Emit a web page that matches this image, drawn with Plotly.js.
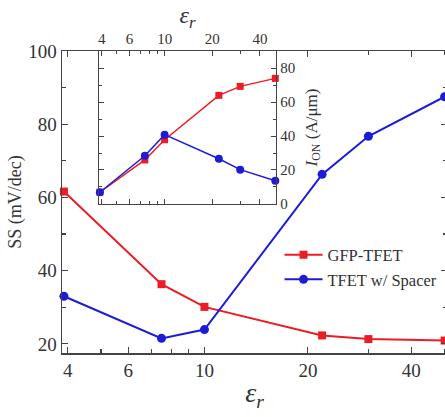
<!DOCTYPE html>
<html>
<head>
<meta charset="utf-8">
<script src="https://cdn.plot.ly/plotly-3.0.1.min.js"></script>
<style>
html,body{margin:0;padding:0;overflow:hidden;background:#fff;}
#chart{width:450px;height:417px;}
</style>
</head>
<body>
<div id="chart"></div>
<script>
// Dielectric constants (x)
const epsR = [3.9, 7.5, 10, 22, 30, 50];
// Main plot: subthreshold swing SS (mV/dec)
const ssGFP = [61.6, 36.3, 30.1, 22.3, 21.3, 20.9];
const ssSpacer = [33.0, 21.5, 23.9, 66.3, 76.7, 87.5];
// Inset: ON current I_ON (A/um)
const ionGFP = [6.9, 25.9, 37.8, 63.9, 69.2, 73.9];
const ionSpacer = [6.9, 28.4, 40.8, 26.6, 20.2, 13.7];
// Tick labels
const xTickVals = [4, 6, 10, 20, 40];
const xTickText = ['4', '6', '10', '20', '40'];
const xMinorVals = [5, 7, 8, 9, 30, 50];

const RED = '#ec1c24';
const BLUE = '#1c1cd8';
const FONT = '"Liberation Serif", "Times New Roman", serif';
const AX = '#444';

const traces = [
  {x: epsR, y: ssGFP, name: 'GFP-TFET', mode: 'lines+markers', xaxis: 'x', yaxis: 'y',
   line: {color: RED, width: 2}, marker: {symbol: 'square', size: 8, color: RED}, cliponaxis: false},
  {x: epsR, y: ssSpacer, name: 'TFET w/ Spacer', mode: 'lines+markers', xaxis: 'x', yaxis: 'y',
   line: {color: BLUE, width: 2}, marker: {symbol: 'circle', size: 9, color: BLUE}, cliponaxis: false},
  {x: epsR, y: ionGFP, name: 'GFP-TFET I_ON', mode: 'lines+markers', xaxis: 'x2', yaxis: 'y2', showlegend: false,
   line: {color: RED, width: 1.5}, marker: {symbol: 'square', size: 7, color: RED}, cliponaxis: false},
  {x: epsR, y: ionSpacer, name: 'Spacer I_ON', mode: 'lines+markers', xaxis: 'x2', yaxis: 'y2', showlegend: false,
   line: {color: BLUE, width: 1.5}, marker: {symbol: 'circle', size: 8, color: BLUE}, cliponaxis: false}
];

const layout = {
  width: 450, height: 417,
  margin: {l: 62, r: 3, t: 51, b: 64},
  paper_bgcolor: '#fff', plot_bgcolor: '#fff',
  font: {family: FONT, color: '#333'},
  showlegend: true,
  legend: {x: 0.565, y: 0.382, xanchor: 'left', yanchor: 'top', bgcolor: 'rgba(0,0,0,0)',
           font: {family: FONT, size: 16.5, color: '#333'}, tracegroupgap: 0, itemwidth: 38},
  xaxis: {
    type: 'log', range: [Math.log10(3.85), Math.log10(50.8)], domain: [0, 1], anchor: 'y',
    showgrid: false, zeroline: false, showline: true, linecolor: AX, linewidth: 1.5, mirror: 'ticks',
    ticks: 'inside', ticklen: 6, tickcolor: AX, tickwidth: 1.2,
    tickmode: 'array', tickvals: xTickVals, ticktext: xTickText,
    tickfont: {family: FONT, size: 19, color: '#333'},
    minor: {tickmode: 'array', tickvals: xMinorVals, ticks: 'inside', ticklen: 4, tickcolor: AX, showgrid: false},
    title: {text: '<i>ε</i><sub><i>r</i></sub>', font: {family: FONT, size: 28, color: '#333'}, standoff: 2}
  },
  yaxis: {
    range: [17.5, 100], domain: [0, 1], anchor: 'x',
    showgrid: false, zeroline: false, showline: true, linecolor: AX, linewidth: 1.5, mirror: 'ticks',
    ticks: 'inside', ticklen: 6, tickcolor: AX, tickwidth: 1.2,
    tickmode: 'array', tickvals: [20, 40, 60, 80, 100],
    tickfont: {family: FONT, size: 19, color: '#333'},
    minor: {tickmode: 'array', tickvals: [30, 50, 70, 90], ticks: 'inside', ticklen: 4, tickcolor: AX, showgrid: false},
    title: {text: 'SS (mV/dec)', font: {family: FONT, size: 18, color: '#333'}, standoff: 2}
  },
  xaxis2: {
    type: 'log', range: [Math.log10(3.85), Math.log10(50.5)], domain: [0.0961, 0.5558], anchor: 'y2', side: 'top',
    showgrid: false, zeroline: false, showline: true, linecolor: AX, linewidth: 1.3, mirror: 'ticks',
    ticks: 'inside', ticklen: 5, tickcolor: AX, tickwidth: 1,
    tickmode: 'array', tickvals: xTickVals, ticktext: xTickText,
    tickfont: {family: FONT, size: 15, color: '#333'},
    minor: {tickmode: 'array', tickvals: xMinorVals, ticks: 'inside', ticklen: 3, tickcolor: AX, showgrid: false},
    title: {text: '<i>ε</i><sub><i>r</i></sub>', font: {family: FONT, size: 24, color: '#333'}, standoff: 0}
  },
  yaxis2: {
    range: [0, 90], domain: [0.4934, 1], anchor: 'x2', side: 'right',
    showgrid: false, zeroline: false, showline: true, linecolor: AX, linewidth: 1.3, mirror: 'ticks',
    ticks: 'inside', ticklen: 5, tickcolor: AX, tickwidth: 1,
    tickmode: 'array', tickvals: [0, 20, 40, 60, 80],
    tickfont: {family: FONT, size: 15, color: '#333'},
    minor: {tickmode: 'array', tickvals: [10, 30, 50, 70], ticks: 'inside', ticklen: 3, tickcolor: AX, showgrid: false},
    title: {text: '<i>I</i><sub>ON</sub> (A/μm)', font: {family: FONT, size: 17, color: '#333'}, standoff: 10}
  },
  shapes: [
    {type: 'rect', xref: 'paper', yref: 'paper', x0: 0.0961, x1: 0.5558, y0: 0.4934, y1: 1,
     fillcolor: '#fff', line: {width: 0}, layer: 'below'}
  ]
};

Plotly.newPlot('chart', traces, layout, {displayModeBar: false, staticPlot: true});
</script>
</body>
</html>
